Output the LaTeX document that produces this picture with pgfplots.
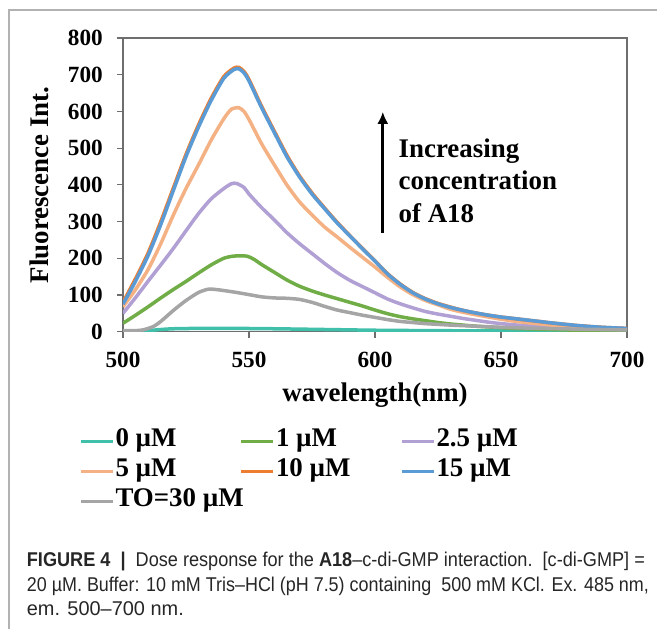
\documentclass[border=0pt]{standalone}
\usepackage{fontspec}
\setmainfont{Liberation Serif}
\newfontfamily\capfont{Liberation Sans}
\usepackage{graphicx}
\usepackage{pgfplots}
\pgfplotsset{compat=1.18}
\usetikzlibrary{arrows.meta}

\definecolor{cTeal}{RGB}{64,191,170}
\definecolor{cGreen}{RGB}{112,173,71}
\definecolor{cPurple}{RGB}{177,160,212}
\definecolor{cPeach}{RGB}{244,177,131}
\definecolor{cOrange}{RGB}{237,125,49}
\definecolor{cBlue}{RGB}{91,155,213}
\definecolor{cGray}{RGB}{165,165,165}
\definecolor{axgray}{RGB}{110,110,110}

\newcommand{\legtxt}[1]{\makebox[123bp][l]{#1}}

\begin{document}
\begin{tikzpicture}
\path[use as bounding box] (0,0) rectangle (657bp,-629bp);
\draw[color=black!30, line width=1.5bp] (9bp,-629bp) -- (9bp,-10bp) -- (657bp,-10bp);

\begin{axis}[
  at={(123bp,-331.7bp)}, anchor=south west,
  scale only axis, width=504bp, height=293.7bp,
  xmin=500, xmax=700, ymin=0, ymax=800,
  xtick={500,550,...,700}, ytick={0,100,...,800},
  xtick pos=bottom, ytick pos=left,
  tick align=outside, major tick length=6bp,
  axis line style={axgray, line width=1.2bp},
  tick style={axgray, line width=1.2bp},
  /pgf/number format/assume math mode=true,
  tick label style={font=\fontsize{23.3}{28}\selectfont\bfseries, inner sep=0pt},
  xticklabel style={anchor=north, yshift=-14bp},
  yticklabel style={anchor=east, xshift=-14bp},
  every axis x label/.style={at={(axis description cs:0.5,-0.216)}, anchor=center,
    font=\fontsize{27}{32}\selectfont\bfseries},
  every axis y label/.style={at={(axis description cs:-0.165,0.5)}, rotate=90, anchor=center,
    font=\fontsize{27}{32}\selectfont\bfseries},
  xlabel={wavelength(nm)},
  ylabel={Fluorescence Int.},
  legend columns=3,
  legend cell align=left,
  legend image code/.code={\draw[#1] (0bp,0bp) -- (32bp,0bp);},
  legend style={draw=none, fill=none, inner sep=0pt, outer sep=0pt,
    at={(axis description cs:-0.0873,-0.322)}, anchor=north west,
    font=\fontsize{27}{30}\selectfont\bfseries,
    row sep=0pt, column sep=0pt,
    nodes={inner sep=1bp, text height=19.5bp, text depth=8.5bp}},
  every axis plot/.append style={line width=3.5bp, smooth, tension=0.4},
]
% 0 uM
\addplot[cTeal] coordinates {
(500,0) (505,1) (510,3) (515,6) (520,8) (530,9) (545,9) (560,8) (580,6)
(600,4) (620,3) (650,2) (700,1)};
\addlegendentry{\legtxt{0 µM}}
% 1 uM
\addplot[cGreen] coordinates {
(500,23) (505,45) (510,68) (515,92) (520,115) (525,137) (530,160) (535,182)
(540,200) (544,206) (549,206) (552,197) (555,183) (560,162) (565,141) (570,124)
(575,111) (580,100) (585,90) (590,80) (595,70) (600,59) (605,49) (610,41)
(615,35) (620,30) (625,25) (630,21) (635,18) (640,15) (645,13) (650,11)
(655,9) (660,8) (670,6) (680,4) (690,3) (700,3)};
\addlegendentry{\legtxt{1 µM}}
% 2.5 uM
\addplot[cPurple] coordinates {
(500,50) (505,93) (510,138) (515,182) (520,227) (525,275) (530,322) (535,362)
(540,390) (543,403) (545,404) (548,393) (550,375) (555,338) (560,305) (565,270)
(570,240) (575,213) (580,186) (585,161) (590,140) (595,123) (600,106) (605,89)
(610,76) (615,65) (620,55) (625,48) (630,42) (635,36) (640,31) (645,26)
(650,22) (655,19) (660,16) (670,12) (680,9) (690,7) (700,6)};
\addlegendentry{\legtxt{2.5 µM}}
% 5 uM
\addplot[cPeach] coordinates {
(500,68) (505,115) (510,170) (515,240) (520,318) (525,390) (530,455) (535,522)
(540,580) (543,606) (546,610) (548,600) (550,578) (555,512) (560,455) (565,400)
(570,354) (575,318) (580,285) (585,258) (590,230) (595,203) (600,176) (605,148)
(610,122) (615,101) (620,85) (625,73) (630,61) (635,53) (640,46) (645,40)
(650,34) (655,29) (660,25) (670,18) (680,13) (690,10) (700,8)};
\addlegendentry{\legtxt{5 µM}}
% 10 uM
\addplot[cOrange] coordinates {
(500,80) (505,145) (510,215) (515,300) (520,392) (525,483) (530,564) (535,636)
(540,695) (544,718) (546,720) (548,709) (550,687) (555,614) (560,547) (565,481)
(570,425) (575,378) (580,337) (585,298) (590,262) (595,227) (600,193) (605,158)
(610,130) (615,107) (620,90) (625,77) (630,67) (635,58) (640,51) (645,45)
(650,40) (655,36) (660,32) (665,28) (670,24) (680,17) (690,12) (700,9)};
\addlegendentry{\legtxt{10 µM}}
% 15 uM
\addplot[cBlue] coordinates {
(500,75) (505,138) (510,208) (515,292) (520,385) (525,477) (530,558) (535,630)
(540,690) (544,714) (546,716) (548,705) (550,683) (555,610) (560,543) (565,477)
(570,422) (575,375) (580,335) (585,296) (590,261) (595,226) (600,192) (605,157)
(610,129) (615,106) (620,89) (625,76) (630,66) (635,58) (640,51) (645,45)
(650,40) (655,36) (660,32) (665,28) (670,24) (680,17) (690,12) (700,9)};
\addlegendentry{\legtxt{15 µM}}
% TO = 30 uM
\addplot[cGray] coordinates {
(500,3) (505,3) (508,5) (512,14) (515,28) (520,58) (525,85) (530,107) (534,116)
(538,114) (545,107) (550,101) (555,95) (560,92) (565,91) (570,88) (575,80)
(580,69) (585,59) (590,52) (595,45) (600,39) (605,33) (610,28) (615,25)
(620,22) (630,18) (640,15) (650,12) (660,10) (680,7) (700,5)};
\addlegendentry{\legtxt{TO=30 µM}}

\draw[-{Latex[length=12bp,width=11bp]}, line width=3bp, black]
  (axis cs:603.1,269) -- (axis cs:603.1,599);
\node[anchor=north west, align=left, inner sep=0pt,
  font=\fontsize{27}{33}\selectfont\bfseries]
  at (axis cs:609.3,527) {Increasing\\concentration\\of A18};
\end{axis}

\node[anchor=base west, inner sep=0pt, text=black!85, font=\capfont\fontsize{20}{24}\selectfont]
  at (26.7bp,-566.7bp) {\resizebox{618bp}{\height}{\textbf{FIGURE 4}\ \ \textbf{|}\ \ Dose response for the \textbf{A18}–c-di-GMP interaction.\ \ [c-di-GMP] =}};
\node[anchor=base west, inner sep=0pt, text=black!85, font=\capfont\fontsize{20}{24}\selectfont]
  at (26.7bp,-591bp) {\resizebox{622bp}{\height}{20 µM. Buffer: 10 mM Tris–HCl (pH 7.5) containing\ \ 500 mM KCl. Ex. 485 nm,}};
\node[anchor=base west, inner sep=0pt, text=black!85, font=\capfont\fontsize{20}{24}\selectfont]
  at (26.7bp,-615bp) {em. 500–700 nm.};
\end{tikzpicture}
\end{document}
